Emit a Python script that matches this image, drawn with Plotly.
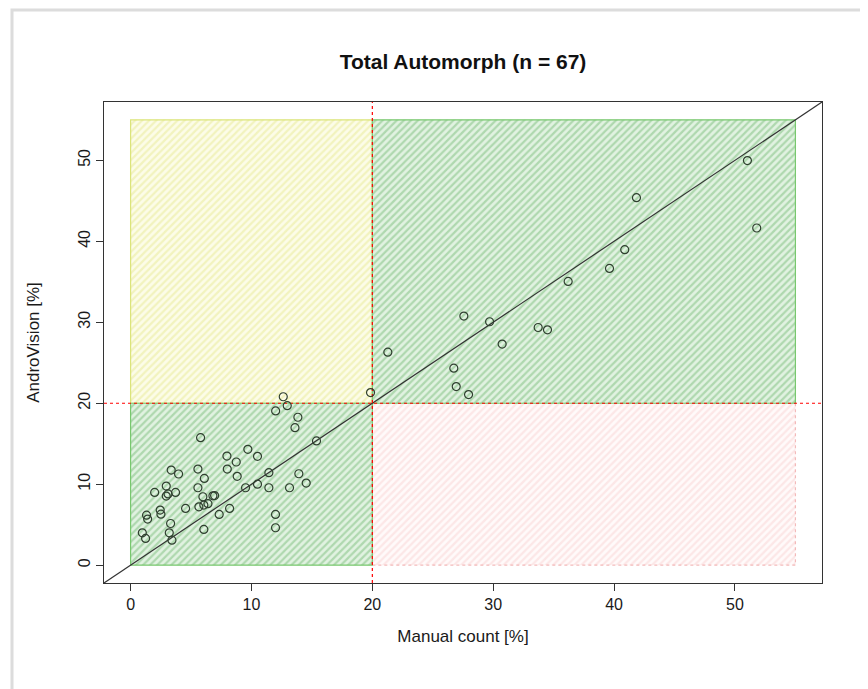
import plotly.graph_objects as go

# ---- data ----
manual = [12.63, 12.96, 12.0, 13.84, 13.6, 5.79, 15.38, 7.97, 9.70, 10.5,
          8.74, 8.0, 5.57, 3.36, 3.97, 6.1, 8.82, 11.44, 13.92, 14.53,
          13.15, 11.44, 10.5, 9.51, 5.57, 2.95, 1.99, 3.72, 2.95, 5.98,
          6.81, 6.95, 6.06, 5.65, 4.55, 8.19, 2.45, 2.51, 7.33, 1.32,
          1.41, 3.31, 11.99, 11.99, 6.06, 0.97, 1.24, 3.2, 3.42, 3.1,
          6.4,
          19.85, 21.28, 27.57, 29.7, 30.74, 33.72, 34.49, 36.2, 39.62, 26.74,
          26.94, 27.96, 51.03, 41.85, 51.8, 40.88]
androvision = [20.8, 19.7, 19.05, 18.27, 16.98, 15.75, 15.34, 13.48, 14.31, 13.44,
               12.74, 11.87, 11.87, 11.75, 11.26, 10.72, 10.97, 11.42, 11.29, 10.14,
               9.56, 9.56, 10.0, 9.56, 9.56, 9.77, 8.99, 8.99, 8.53, 8.45,
               8.57, 8.6, 7.42, 7.21, 7.01, 7.01, 6.8, 6.3, 6.27, 6.18,
               5.69, 5.15, 6.27, 4.62, 4.41, 4.0, 3.3, 4.0, 3.09, 8.8,
               7.6,
               21.31, 26.3, 30.76, 30.06, 27.3, 29.35, 29.07, 35.04, 36.65, 24.33,
               22.06, 21.07, 49.97, 45.39, 41.64, 38.96]

cutoff = 20
limit = 55
x_ticks = [0, 10, 20, 30, 40, 50]
y_ticks = [0, 10, 20, 30, 40, 50]
title_text = "Total Automorph (n = 67)"
x_label = "Manual count [%]"
y_label = "AndroVision [%]"

pad = 0.04 * limit
axis_range = [-pad, limit + pad]

fig = go.Figure()

def hatched_rect(x0, x1, y0, y1, fg, bg, line_color, dash="solid"):
    fig.add_trace(go.Scatter(
        x=[x0, x1, x1, x0, x0], y=[y0, y0, y1, y1, y0],
        mode="lines", fill="toself",
        fillcolor=bg,
        fillpattern=dict(shape="/", fgcolor=fg, bgcolor=bg, size=5, solidity=0.45),
        line=dict(color=line_color, width=1.2, dash=dash),
        hoverinfo="skip", showlegend=False))

# quadrants
hatched_rect(0, cutoff, cutoff, limit, "rgba(225,228,120,0.75)", "rgba(252,252,232,1)", "rgba(215,225,110,0.9)")
hatched_rect(cutoff, limit, 0, cutoff, "rgba(245,185,185,0.6)", "rgba(255,250,250,1)", "rgba(240,170,170,0.8)", "dot")
hatched_rect(0, cutoff, 0, cutoff, "rgba(105,180,105,0.85)", "rgba(225,242,225,1)", "rgba(120,200,110,1)")
hatched_rect(cutoff, limit, cutoff, limit, "rgba(105,180,105,0.85)", "rgba(225,242,225,1)", "rgba(120,200,110,1)")

# identity line
fig.add_trace(go.Scatter(x=axis_range, y=axis_range, mode="lines",
                         line=dict(color="#333333", width=1.2),
                         hoverinfo="skip", showlegend=False))

# cut-off lines
fig.add_trace(go.Scatter(x=[cutoff, cutoff], y=axis_range, mode="lines",
                         line=dict(color="red", width=1.2, dash="dot"),
                         hoverinfo="skip", showlegend=False))
fig.add_trace(go.Scatter(x=axis_range, y=[cutoff, cutoff], mode="lines",
                         line=dict(color="red", width=1.2, dash="dot"),
                         hoverinfo="skip", showlegend=False))

# points
fig.add_trace(go.Scatter(x=manual, y=androvision, mode="markers",
                         marker=dict(symbol="circle-open", size=8,
                                     color="#2f3f2f", line=dict(width=1.2, color="#2f3f2f")),
                         showlegend=False))

W, H = 868, 689
OFF = 8  # page body margin of the browser
L, T = 104 - OFF, 102 - OFF
pw, ph = 718, 481
R = W - L - pw
B = H - T - ph

def px_x(p):
    return (p - OFF - L) / pw

def px_y(p):
    return (T + ph - (p - OFF)) / ph

fig.add_shape(type="rect", xref="paper", yref="paper",
              x0=px_x(12), x1=px_x(866), y0=px_y(10), y1=px_y(720),
              line=dict(color="#dcdcdc", width=3), layer="below")

axis_common = dict(range=axis_range, showgrid=False, zeroline=False,
                   showline=True, linecolor="#333333", linewidth=1.2, mirror=True,
                   ticks="outside", ticklen=7, tickcolor="#333333", tickwidth=1,
                   tickfont=dict(family="Liberation Sans, Arial", size=16, color="#1a1a1a"))

fig.update_layout(
    width=W, height=H,
    margin=dict(l=L, r=R, t=T, b=B),
    paper_bgcolor="white", plot_bgcolor="white",
    title=dict(text="<b>" + title_text + "</b>", x=0.5, xref="paper",
               y=1 - (62 - OFF) / H, yanchor="middle",
               font=dict(family="Liberation Sans, Arial", size=21, color="#111111")),
    xaxis=dict(**axis_common, tickvals=x_ticks, ticktext=[str(v) for v in x_ticks],
               title=dict(text=x_label, standoff=17,
                          font=dict(family="Liberation Sans, Arial", size=17, color="#1a1a1a"))),
    yaxis=dict(**axis_common, tickvals=y_ticks, ticktext=[str(v) for v in y_ticks],
               tickangle=-90,
               title=dict(text=y_label, standoff=31,
                          font=dict(family="Liberation Sans, Arial", size=17, color="#1a1a1a"))),
)

fig.write_html("out.html")
